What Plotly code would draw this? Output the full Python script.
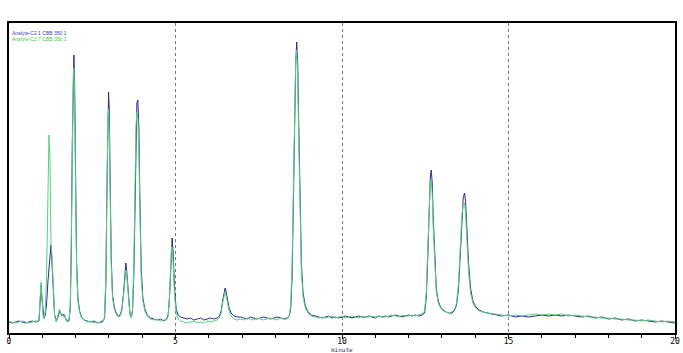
import plotly.graph_objects as go

# retention time (minutes)
minutes = [
    0.0, 0.1, 0.2, 0.3, 0.4, 0.5, 0.6, 0.7, 0.8, 0.9,
    0.93, 0.96, 0.99, 1.02, 1.05,
    1.09, 1.13, 1.17, 1.2, 1.23, 1.26, 1.29, 1.33, 1.37,
    1.42, 1.47, 1.52, 1.56, 1.6, 1.64, 1.68, 1.72, 1.76,
    1.8, 1.84, 1.87, 1.9, 1.93, 1.95, 1.97, 2.0, 2.03, 2.07, 2.12, 2.18, 2.25,
    2.35, 2.45, 2.55, 2.65, 2.75, 2.82,
    2.87, 2.91, 2.94, 2.97, 2.99, 3.01, 3.04, 3.07, 3.11, 3.16, 3.22, 3.28,
    3.34, 3.39, 3.44, 3.48, 3.51, 3.54, 3.58, 3.63, 3.67,
    3.71, 3.75, 3.78, 3.81, 3.84, 3.87, 3.9, 3.93, 3.97, 4.02, 4.08, 4.15,
    4.25, 4.35, 4.45, 4.55, 4.65, 4.73,
    4.78, 4.82, 4.85, 4.88, 4.9, 4.93, 4.97, 5.02, 5.08, 5.15,
    5.25, 5.35, 5.45, 5.55, 5.65, 5.75, 5.85, 5.95, 6.05, 6.15, 6.25,
    6.32, 6.37, 6.42, 6.46, 6.49, 6.52, 6.56, 6.61, 6.67, 6.75, 6.85,
    6.95, 7.05, 7.15, 7.25, 7.35, 7.45, 7.55, 7.65, 7.75, 7.85, 7.95, 8.05, 8.15, 8.25, 8.35,
    8.42, 8.46, 8.5, 8.54, 8.58, 8.61, 8.64, 8.67, 8.7, 8.74, 8.78, 8.83, 8.9, 8.98, 9.08, 9.2,
    9.3, 9.4, 9.5, 9.6, 9.7, 9.8, 9.9, 10.0, 10.1, 10.2,
    10.3, 10.4, 10.5, 10.6, 10.7, 10.8, 10.9, 11.0, 11.1, 11.2,
    11.3, 11.4, 11.5, 11.6, 11.7, 11.8, 11.9, 12.0, 12.1, 12.2,
    12.3, 12.4,
    12.48, 12.53, 12.57, 12.61, 12.65, 12.68, 12.71, 12.74, 12.78, 12.83, 12.89, 12.96, 13.04, 13.13, 13.22, 13.3, 13.37,
    13.44, 13.5, 13.55, 13.6, 13.64, 13.68, 13.71, 13.75, 13.8, 13.86, 13.93, 14.02, 14.12, 14.24, 14.36, 14.48,
    14.6, 14.8, 15.0, 15.2, 15.4, 15.6, 15.8, 16.0, 16.2, 16.4,
    16.6, 16.8, 17.0, 17.2, 17.4, 17.6, 17.8, 18.0, 18.2, 18.4,
    18.6, 18.8, 19.0, 19.2, 19.4, 19.6, 19.8, 20.0,
]

# detector response, arbitrary units
signal_c2_1 = [
    11, 10, 11, 12, 11, 10, 11, 12, 11, 12,
    28, 48, 34, 19, 15,
    18, 30, 52, 68, 80, 88, 70, 35, 18,
    12, 16, 22, 20, 17, 19, 15, 13, 12,
    12, 25, 80, 190, 262, 278, 250, 150, 70, 35, 22, 16, 13,
    12, 11, 12, 10, 11, 12,
    15, 50, 140, 220, 241, 225, 150, 75, 38, 26, 20, 17,
    18, 24, 40, 62, 70, 60, 38, 20, 16,
    22, 60, 130, 200, 230, 233, 205, 135, 65, 35, 24, 18,
    15, 14, 13, 14, 12, 14,
    18, 35, 65, 90, 95, 80, 45, 24, 18, 16,
    15, 14, 15, 13, 14, 15, 13, 14, 15, 14, 15,
    17, 22, 33, 42, 45, 41, 33, 25, 20, 17, 16,
    16, 15, 14, 16, 15, 14, 15, 16, 15, 14, 15, 16, 15, 14, 15,
    17, 25, 55, 130, 220, 270, 291, 270, 210, 130, 70, 40, 27, 21, 18, 17,
    16, 15, 16, 17, 15, 16, 15, 16, 17, 16,
    15, 16, 17, 16, 16, 17, 16, 15, 17, 16,
    17, 16, 17, 18, 17, 16, 17, 18, 17, 18,
    17, 18,
    20, 35, 70, 120, 155, 163, 150, 115, 75, 45, 32, 26, 23, 21, 20, 20, 22,
    28, 45, 80, 115, 135, 140, 132, 105, 70, 45, 32, 26, 23, 21, 20, 19,
    18, 17, 18, 16, 17, 16, 17, 18, 17, 18,
    17, 18, 17, 16, 17, 15, 16, 14, 15, 13,
    14, 12, 13, 12, 11, 12, 11, 10,
]

signal_c2_7 = [
    11, 11, 10, 11, 12, 11, 10, 11, 12, 12,
    30, 51, 36, 18, 14,
    22, 60, 150, 198, 175, 90, 78, 38, 17,
    11, 18, 24, 18, 19, 16, 17, 12, 11,
    12, 28, 90, 195, 258, 265, 240, 140, 65, 32, 21, 15, 13,
    11, 12, 10, 11, 10, 11,
    16, 60, 150, 215, 224, 205, 135, 68, 35, 24, 19, 16,
    17, 23, 38, 58, 63, 56, 35, 19, 15,
    24, 70, 145, 205, 221, 215, 180, 115, 55, 32, 22, 17,
    14, 13, 14, 12, 13, 13,
    17, 36, 68, 86, 85, 70, 38, 20, 14, 12,
    11, 10, 11, 12, 10, 11, 10, 12, 11, 12, 13,
    15, 20, 31, 39, 41, 37, 29, 22, 17, 14, 13,
    14, 13, 15, 14, 13, 15, 14, 13, 14, 15, 14, 13, 15, 14, 14,
    18, 28, 65, 145, 230, 272, 283, 258, 195, 118, 62, 36, 25, 20, 17, 16,
    15, 16, 15, 16, 17, 15, 16, 17, 15, 16,
    17, 16, 15, 17, 16, 16, 17, 16, 17, 16,
    16, 17, 18, 17, 16, 18, 17, 17, 18, 17,
    18, 19,
    22, 40, 78, 125, 150, 153, 138, 105, 68, 42, 30, 25, 22, 21, 20, 21, 23,
    30, 50, 85, 118, 128, 130, 120, 95, 62, 40, 30, 25, 22, 21, 20, 19,
    19, 18, 17, 18, 17, 18, 19, 18, 19, 18,
    19, 17, 18, 17, 16, 16, 15, 15, 14, 14,
    13, 13, 12, 13, 12, 11, 12, 11,
]

trace_names = ["Analyte-C2 1 CBB 350 1", "Analyte-C2 7 CBB 350 1"]
x_ticks = [0, 5, 10, 15, 20]
x_tick_text = ["0", "5", "10", "15", "20"]
x_title = "minute"

assert len(minutes) == len(signal_c2_1) == len(signal_c2_7), (len(minutes), len(signal_c2_1), len(signal_c2_7))

BLUE = "#2e2a8c"
GREEN = "#55d27a"

fig = go.Figure()
fig.add_trace(go.Scatter(x=minutes, y=signal_c2_1, mode="lines", name=trace_names[0],
                         line=dict(color=BLUE, width=1)))
fig.add_trace(go.Scatter(x=minutes, y=signal_c2_7, mode="lines", name=trace_names[1],
                         line=dict(color=GREEN, width=1)))

fig.update_layout(
    width=683, height=353,
    margin=dict(l=9, r=8, t=23, b=20),
    paper_bgcolor="white", plot_bgcolor="white",
    showlegend=False,
    xaxis=dict(
        range=[0, 20], tickvals=x_ticks, ticktext=x_tick_text, automargin=False,
        showline=True, linecolor="black", linewidth=2, mirror=True,
        ticks="outside", ticklen=4, tickwidth=1, tickcolor="black",
        minor=dict(dtick=1, ticks="outside", ticklen=3, tickwidth=1, tickcolor="black", showgrid=False),
        showgrid=True, gridcolor="#777777", gridwidth=1, griddash="dot",
        zeroline=False, ticklabelstandoff=-5,
        tickfont=dict(family="DejaVu Sans Mono", size=8, color="black"),
    ),
    yaxis=dict(
        range=[0, 310], automargin=False,
        showline=True, linecolor="black", linewidth=2, mirror=True,
        showticklabels=False, ticks="", showgrid=False, zeroline=False,
    ),
    annotations=[
        dict(text=trace_names[0], xref="paper", yref="paper", x=0, y=1, xanchor="left", yanchor="top",
             xshift=1, yshift=-5, showarrow=False, font=dict(family="Liberation Sans", size=5, color="#3a3ab0")),
        dict(text=trace_names[1], xref="paper", yref="paper", x=0, y=1, xanchor="left", yanchor="top",
             xshift=1, yshift=-11, showarrow=False, font=dict(family="Liberation Sans", size=5, color="#44cc44")),
        dict(text=x_title, xref="x", yref="paper", x=10, y=0, xanchor="center", yanchor="top",
             yshift=-12, showarrow=False, borderpad=0,
             font=dict(family="DejaVu Sans Mono", size=6, color="#333366")),
    ],
)

fig.write_html("out.html")
